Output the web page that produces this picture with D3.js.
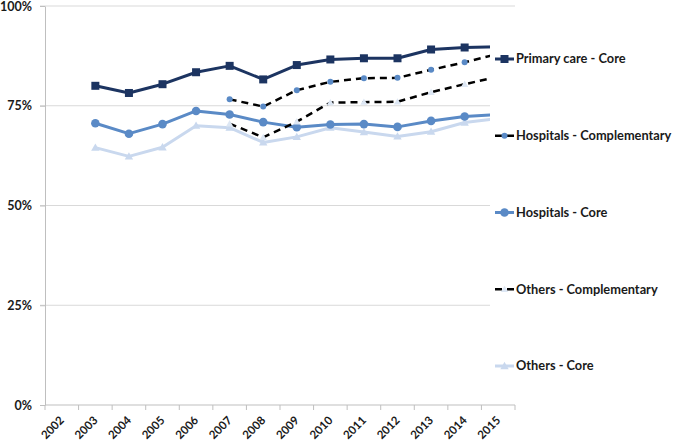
<!DOCTYPE html>
<html>
<head>
<meta charset="utf-8">
<script src="https://cdn.jsdelivr.net/npm/d3@7"></script>
<style>
    body { margin: 0; background: #fff; }
    text { font-family: Lato, "Open Sans", sans-serif; font-weight: bold; fill: #1a1a1a; }
</style>
</head>
<body>
<script>
var years = ["2002", "2003", "2004", "2005", "2006", "2007", "2008",
             "2009", "2010", "2011", "2012", "2013", "2014", "2015"];

var yTicks = [0, 25, 50, 75, 100];

var primaryCore   = [null, 80.0, 78.2, 80.4, 83.4, 85.0, 81.6, 85.2, 86.6, 86.9, 86.9, 89.1, 89.6, 89.8];
var hospitalsComp = [null, null, null, null, null, 76.6, 74.8, 78.9, 81.0, 81.9, 82.0, 84.0, 85.9, 88.0];
var hospitalsCore = [null, 70.6, 68.0, 70.4, 73.7, 72.8, 70.9, 69.6, 70.3, 70.4, 69.7, 71.2, 72.3, 72.8];
var othersComp    = [null, null, null, null, null, 70.5, 67.1, 71.0, 75.8, 75.9, 76.0, 78.4, 80.4, 82.3];
var othersCore    = [null, 64.5, 62.3, 64.6, 70.0, 69.5, 65.8, 67.2, 69.5, 68.4, 67.3, 68.5, 70.8, 71.8];

var seriesNames = ["Primary care - Core", "Hospitals - Complementary", "Hospitals - Core",
                   "Others - Complementary", "Others - Core"];

function main() {
    var width = 675, height = 445;
    var left = 45, right = 515, top = 6, bottom = 405;

    var svg = d3.select("body").append("svg")
        .attr("width", width).attr("height", height);

    var x = d3.scaleBand().domain(years).range([left, right]);
    var y = d3.scaleLinear().domain([0, 100]).range([bottom, top]);
    var cx = function(i) { return x(years[i]) + x.bandwidth() / 2; };

    // gridlines
    svg.selectAll("line.grid")
        .data(yTicks.filter(function(d) { return d > 0; }))
        .enter().append("line")
        .attr("class", "grid")
        .attr("x1", left - 5).attr("x2", right)
        .attr("y1", function(d) { return y(d); })
        .attr("y2", function(d) { return y(d); })
        .attr("stroke", "#d9d9d9").attr("stroke-width", 1);

    // y axis
    var yAxis = svg.append("g")
        .attr("transform", "translate(" + left + ",0)")
        .call(d3.axisLeft(y).tickValues(yTicks).tickSize(5).tickSizeOuter(0)
              .tickFormat(function(d) { return d + "%"; }));
    yAxis.select(".domain").attr("stroke", "#bfbfbf");
    yAxis.selectAll(".tick line").attr("stroke", "#bfbfbf");
    yAxis.selectAll(".tick text")
        .attr("x", -13)
        .style("font-size", "12.5px");

    // x axis
    var xAxis = svg.append("g")
        .attr("transform", "translate(0," + bottom + ")");
    xAxis.append("line")
        .attr("x1", left).attr("x2", right)
        .attr("stroke", "#bfbfbf");
    xAxis.selectAll("line.tk")
        .data(d3.range(years.length + 1))
        .enter().append("line")
        .attr("class", "tk")
        .attr("x1", function(i) { return left + i * x.step(); })
        .attr("x2", function(i) { return left + i * x.step(); })
        .attr("y1", 0).attr("y2", 5)
        .attr("stroke", "#bfbfbf");
    xAxis.selectAll("text")
        .data(years)
        .enter().append("text")
        .text(function(d) { return d; })
        .attr("text-anchor", "end")
        .attr("font-size", "11.5px")
        .attr("transform", function(d, i) {
            return "translate(" + (cx(i) + 3) + ",16) rotate(-45)";
        });

    var series = [
        { name: seriesNames[0], values: primaryCore, line: "#1c3461", width: 3, dash: null,
          marker: "square", fill: "#1c3461", size: 8 },
        { name: seriesNames[1], values: hospitalsComp, line: "#000", width: 2.5, dash: "7,5",
          marker: "circle", fill: "#5a8ac6", size: 3 },
        { name: seriesNames[2], values: hospitalsCore, line: "#5a8ac6", width: 3, dash: null,
          marker: "circle", fill: "#5a8ac6", size: 4.3 },
        { name: seriesNames[3], values: othersComp, line: "#000", width: 2.5, dash: "7,5",
          marker: "triangle", fill: "#dde7f4", size: 6 },
        { name: seriesNames[4], values: othersCore, line: "#c9d8ee", width: 3, dash: null,
          marker: "triangle", fill: "#c9d8ee", size: 7 }
    ];

    function drawMarker(g, s, px, py) {
        if (s.marker === "square") {
            g.append("rect")
                .attr("x", px - s.size / 2).attr("y", py - s.size / 2)
                .attr("width", s.size).attr("height", s.size)
                .attr("fill", s.fill);
        } else if (s.marker === "circle") {
            g.append("circle").attr("cx", px).attr("cy", py).attr("r", s.size)
                .attr("fill", s.fill);
        } else {
            var h = s.size;
            g.append("path")
                .attr("d", "M" + px + "," + (py - h * 0.6) + "L" + (px + h * 0.6) + "," + (py + h * 0.45) +
                           "L" + (px - h * 0.6) + "," + (py + h * 0.45) + "Z")
                .attr("fill", s.fill);
        }
    }

    // draw order: bottom series first
    var order = [4, 2, 3, 1, 0];
    order.forEach(function(k) {
        var s = series[k];
        var pts = s.values.map(function(v, i) { return { i: i, v: v }; })
            .filter(function(d) { return d.v !== null; });
        var line = d3.line()
            .x(function(d) { return cx(d.i); })
            .y(function(d) { return y(d.v); });
        var g = svg.append("g");
        g.append("path")
            .datum(pts)
            .attr("d", line)
            .attr("fill", "none")
            .attr("stroke", s.line)
            .attr("stroke-width", s.width)
            .attr("stroke-dasharray", s.dash)
            .attr("stroke-linejoin", "round");
        pts.forEach(function(d) { drawMarker(g, s, cx(d.i), y(d.v)); });
    });

    // legend box sits over the plot's right edge
    var legend = svg.append("g");
    legend.append("rect")
        .attr("x", 490).attr("y", 12)
        .attr("width", 185).attr("height", 383)
        .attr("fill", "#fff");
    var legendY = d3.scalePoint().domain(seriesNames).range([59, 366]);
    series.forEach(function(s) {
        var ly = legendY(s.name);
        legend.append("line")
            .attr("x1", 495).attr("x2", 514)
            .attr("y1", ly).attr("y2", ly)
            .attr("stroke", s.line)
            .attr("stroke-width", s.width)
            .attr("stroke-dasharray", s.dash);
        drawMarker(legend, s, 504.5, ly);
        legend.append("text")
            .attr("x", 516).attr("y", ly)
            .attr("dy", "0.35em")
            .attr("font-size", "12.8px")
            .text(s.name);
    });
}

window.onload = main;
</script>
</body>
</html>
